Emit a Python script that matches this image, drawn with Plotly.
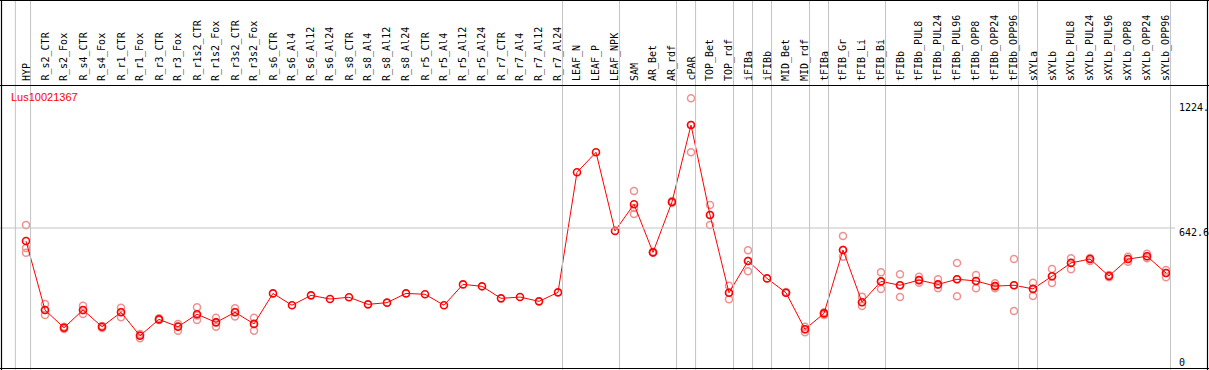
import plotly.graph_objects as go

categories = ["HYP", "R_s2_CTR", "R_s2_Fox", "R_s4_CTR", "R_s4_Fox", "R_r1_CTR", "R_r1_Fox",
              "R_r3_CTR", "R_r3_Fox", "R_r1s2_CTR", "R_r1s2_Fox", "R_r3s2_CTR", "R_r3s2_Fox",
              "R_s6_CTR", "R_s6_Al4", "R_s6_Al12", "R_s6_Al24", "R_s8_CTR", "R_s8_Al4",
              "R_s8_Al12", "R_s8_Al24", "R_r5_CTR", "R_r5_Al4", "R_r5_Al12", "R_r5_Al24",
              "R_r7_CTR", "R_r7_Al4", "R_r7_Al12", "R_r7_Al24", "LEAF_N", "LEAF_P", "LEAF_NPK",
              "SAM", "AR_Bet", "AR_rdf", "cPAR", "TOP_Bet", "TOP_rdf", "iFIBa", "iFIBb",
              "MID_Bet", "MID_rdf", "tFIBa", "tFIB_Gr", "tFIB_Li", "tFIB_Bi", "tFIBb",
              "tFIBb_PUL8", "tFIBb_PUL24", "tFIBb_PUL96", "tFIBb_OPP8", "tFIBb_OPP24",
              "tFIBb_OPP96", "sXYLa", "sXYLb", "sXYLb_PUL8", "sXYLb_PUL24", "sXYLb_PUL96",
              "sXYLb_OPP8", "sXYLb_OPP24", "sXYLb_OPP96"]

means = [582, 261, 178, 261, 183, 250, 141, 217, 183, 241, 203, 250, 196,
         338, 283, 329, 312, 320, 287, 295, 338, 334, 283, 380, 371, 315, 321, 301, 343,
         902, 995, 629, 753, 529, 764, 1122, 703, 341, 489, 408, 341, 171, 245, 540,
         297, 394, 376, 400, 380, 404, 396, 372, 376, 359, 418, 480, 498, 419, 498, 511, 433]

replicates = [
    [656, 550, 527], [289, 238, 261], [183, 172, 179], [281, 242, 260], [186, 177, 185],
    [271, 227, 251], [149, 129, 144], [222, 214, 217], [196, 164, 186], [273, 214, 235],
    [225, 183, 205], [269, 230, 251], [225, 164, 196],
    [], [], [], [], [], [], [], [], [], [], [], [], [], [], [], [],
    [], [], [], [815, 736, 708], [528, 532, 529], [760, 768, 764], [1247, 995, 1122],
    [750, 657, 703], [374, 311, 341], [539, 441, 489], [], [340, 345, 341], [183, 157, 171],
    [250, 238, 245], [605, 509, 540], [323, 279, 297], [436, 359, 394], [427, 321, 376],
    [416, 388, 400], [404, 362, 380], [480, 325, 404], [424, 362, 396], [385, 362, 372],
    [498, 256, 376], [388, 326, 359], [452, 387, 418], [502, 450, 480], [503, 489, 498],
    [424, 413, 419], [509, 486, 498], [523, 502, 511], [447, 413, 433]]

group_ends = [0, 28, 31, 34, 35, 37, 38, 39, 41, 42, 45, 52, 53, 60]
y_tick_vals = [1224, 642.6, 0]
y_tick_text = ["1224.", "642.6", "0"]
gene = "Lus10021367"

W, H = 1209, 370
x0px, dx = 26.0, 19.0
k = 138.0 / 642.6   # px per unit
zero_px = 366.0

xs = list(range(len(categories)))
rx, ry = [], []
for i, reps in enumerate(replicates):
    for v in reps:
        rx.append(i)
        ry.append(v)

fig = go.Figure()
fig.add_trace(go.Scatter(x=rx, y=ry, mode="markers",
                         marker=dict(symbol="circle-open", size=7, color="#f09090",
                                     line=dict(width=1.5, color="#f09090")),
                         hoverinfo="skip", showlegend=False))
fig.add_trace(go.Scatter(x=xs, y=means, mode="lines+markers",
                         line=dict(color="#ff0000", width=1),
                         marker=dict(symbol="circle-open", size=7, color="#ff0000",
                                     line=dict(width=1.6, color="#ff0000")),
                         text=categories, showlegend=False))

shapes = []
def py(p):
    return (H - p) / H
def pxp(p):
    return p / W

# vertical group separators
for g in [-0.8] + group_ends:
    shapes.append(dict(type="line", xref="x", yref="paper", x0=g + 0.24, x1=g + 0.24,
                       y0=0, y1=1, line=dict(color="#c4c4c4", width=1)))
# horizontal reference line at middle tick
shapes.append(dict(type="line", xref="paper", yref="y", x0=0, x1=pxp(1175),
                   y0=y_tick_vals[1], y1=y_tick_vals[1], line=dict(color="#c4c4c4", width=1)))
# black frame lines
for p in [0.5, 85.5, 368.5]:
    shapes.append(dict(type="line", xref="paper", yref="paper", x0=0, x1=1, y0=py(p), y1=py(p),
                       line=dict(color="black", width=1.2)))
for p in [1.5, 1207.5]:
    shapes.append(dict(type="line", xref="paper", yref="paper", x0=pxp(p), x1=pxp(p), y0=0, y1=1,
                       line=dict(color="black", width=1.2)))

annotations = []
for i, c in enumerate(categories):
    annotations.append(dict(x=i, xref="x", y=py(83), yref="paper", text=c, textangle=-90,
                            showarrow=False, xanchor="center", yanchor="bottom",
                            font=dict(family="DejaVu Sans Mono", size=10, color="black")))
annotations.append(dict(x=pxp(9), xref="paper", y=py(97), yref="paper", text=gene,
                        showarrow=False, xanchor="left", yanchor="middle",
                        font=dict(family="Liberation Sans", size=11, color="#ff0000")))
for v, t in zip(y_tick_vals, y_tick_text):
    annotations.append(dict(x=pxp(1177), xref="paper", y=v, yref="y", text=t,
                            showarrow=False, xanchor="left", yanchor="middle",
                            yshift=(4 if v == 0 else -4),
                            font=dict(family="DejaVu Sans Mono", size=10, color="black")))

fig.update_layout(
    width=W, height=H, margin=dict(l=0, r=0, t=0, b=0),
    paper_bgcolor="white", plot_bgcolor="white",
    xaxis=dict(range=[-x0px / dx, (W - x0px) / dx], visible=False, fixedrange=True),
    yaxis=dict(range=[-(H - zero_px) / k, zero_px / k], visible=False, fixedrange=True),
    shapes=shapes, annotations=annotations,
)

fig.write_html("out.html", config={"displayModeBar": False},
               post_script="document.body.style.margin='0';document.body.style.overflow='hidden';")
